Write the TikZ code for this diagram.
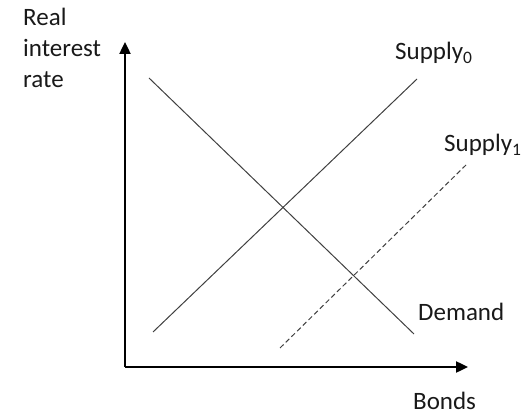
\documentclass[tikz,border=0pt]{standalone}
\usepackage{fontspec}
\setmainfont{Carlito}
\usepackage{tikz}
\usetikzlibrary{arrows.meta, positioning, calc}

\begin{document}
\begin{tikzpicture}[x=1pt, y=-1pt,
  axis/.style={line width=2.4pt, -{Triangle[length=12pt,width=11pt]}},
  curve/.style={black!75, line width=1pt},
  lbl/.style={inner sep=0pt, anchor=base west, text=black!90,
    font=\fontsize{25}{31}\selectfont}]
\useasboundingbox (0,0) rectangle (525,414);

% Axes
\coordinate (O) at (125,367);
\coordinate (ytop) at (125,42);
\coordinate (xend) at (468,367);
\draw[axis] (O) -- (ytop);
\draw[axis] (O) -- (xend);
\node[lbl, align=left] (ylab) at (23,88) {Real\\interest\\rate};
\node[lbl] (xlab) at (413,409) {Bonds};

% Demand
\coordinate (d0) at (149,78);
\coordinate (d1) at (414,334);
\draw[curve] (d0) -- (d1);
\node[lbl] (dlab) at (418,320) {Demand};

% Supply 0
\coordinate (s0a) at (153,332);
\coordinate (s0b) at (417,79);
\draw[curve] (s0a) -- (s0b);
\node[lbl] (s0lab) at (395,60) {Supply\textsubscript{0}};

% Supply 1
\coordinate (s1a) at (280,348);
\coordinate (s1b) at (467,164);
\draw[curve, dash pattern=on 5pt off 3pt] (s1a) -- (s1b);
\node[lbl] (s1lab) at (444,152) {Supply\textsubscript{1}};
\end{tikzpicture}
\end{document}
